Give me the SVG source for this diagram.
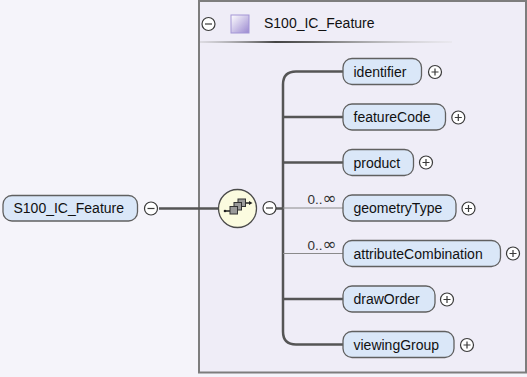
<svg xmlns="http://www.w3.org/2000/svg" width="527" height="377" viewBox="0 0 527 377">
<defs>
<style>
text{font-family:"Liberation Sans",Arial,sans-serif;fill:#111}
.el{fill:#dae7f8;stroke:#606060;stroke-width:1.3}
.lbl{font-size:14px}
.card{font-size:13.5px;fill:#333}
.inf{font-family:"DejaVu Sans",sans-serif;font-size:17px}
.btn{fill:#fff;stroke:#3a3a3a;stroke-width:1.2}
.sign{stroke:#3a3a3a;stroke-width:1.2;fill:none}
.req{stroke:#555;stroke-width:2.5;fill:none}
.opt{stroke:#8a8a8a;stroke-width:1;fill:none}
</style>
<linearGradient id="sq" x1="0" y1="0" x2="1" y2="1">
<stop offset="0" stop-color="#ffffff"/>
<stop offset="1" stop-color="#9a88d0"/>
</linearGradient>
<linearGradient id="sep" x1="0" y1="0" x2="1" y2="0">
<stop offset="0" stop-color="#b0b0b0" stop-opacity="0.3"/>
<stop offset="0.3" stop-color="#444"/>
<stop offset="0.45" stop-color="#666"/>
<stop offset="1" stop-color="#ddd" stop-opacity="0.3"/>
</linearGradient>
<g id="plus"><circle r="6.5" class="btn"/><path d="M-3.5,0H3.5M0,-3.5V3.5" class="sign"/></g>
<g id="minus"><circle r="6.5" class="btn"/><path d="M-3.5,0H3.5" class="sign"/></g>
</defs>
<rect width="527" height="377" fill="#f5f4fa"/>
<g id="container">
<rect x="199" y="1" width="327" height="371.5" fill="#efedf7" stroke="#7d7d7d" stroke-width="2"/>
<use href="#minus" x="208.5" y="24"/>
<rect x="231" y="15" width="18" height="18" fill="url(#sq)" stroke="#a396d6" stroke-width="1"/>
<text x="264" y="28" class="lbl">S100_IC_Feature</text>
<rect x="200" y="41" width="252" height="2" fill="url(#sep)"/>
</g>
<g id="connectors">
<path d="M159,208.5H218" class="req"/>
<path d="M276,208.5H283" class="req"/>
<path d="M343,71.5H296Q283,71.5 283,84.5V331.5Q283,344.5 296,344.5H343" class="req"/>
<path d="M283,117H343M283,162.5H343M283,299H343" class="req"/>
<path d="M283,208H343M283,253.5H343" class="opt"/>
<text x="307.5" y="203.5" class="card">0..<tspan class="inf">∞</tspan></text>
<text x="307.5" y="249.5" class="card">0..<tspan class="inf">∞</tspan></text>
</g>
<g id="root">
<rect x="3" y="195.5" width="134.5" height="25.5" rx="9" class="el"/>
<text x="13.5" y="213" class="lbl">S100_IC_Feature</text>
<use href="#minus" x="151" y="208.5"/>
</g>
<g id="sequence">
<circle cx="237.5" cy="208.5" r="19" fill="#fbfbdf" stroke="#4a4a4a" stroke-width="1.3"/>
<path d="M224.5,211H231M245,203H251" stroke="#222" stroke-width="1.3"/>
<circle cx="225" cy="211" r="1.3" fill="#222"/>
<path d="M249,201L252.5,203L249,205Z" fill="#222"/>
<rect x="238" y="199" width="7.5" height="7.5" fill="#9a9a9a" stroke="#333" stroke-width="1"/>
<rect x="234" y="202.5" width="7.5" height="7.5" fill="#9a9a9a" stroke="#333" stroke-width="1"/>
<rect x="230" y="206.5" width="7.5" height="7.5" fill="#9a9a9a" stroke="#333" stroke-width="1"/>
<use href="#minus" x="269.5" y="208"/>
</g>
<g id="identifier">
<rect x="343" y="58.5" width="78.5" height="26" rx="9" class="el"/>
<text x="353.5" y="76.5" class="lbl">identifier</text>
<use href="#plus" x="435" y="72"/>
</g>
<g id="featureCode">
<rect x="343" y="104" width="102.5" height="26" rx="9" class="el"/>
<text x="353.5" y="122" class="lbl">featureCode</text>
<use href="#plus" x="458.3" y="117.5"/>
</g>
<g id="product">
<rect x="343" y="149.5" width="70.5" height="26" rx="9" class="el"/>
<text x="353.5" y="167.5" class="lbl">product</text>
<use href="#plus" x="426" y="162.5"/>
</g>
<g id="geometryType">
<rect x="343" y="195" width="113" height="26" rx="9" class="el" stroke="#808080"/>
<text x="353.5" y="213" class="lbl">geometryType</text>
<use href="#plus" x="468.5" y="208.5"/>
</g>
<g id="attributeCombination">
<rect x="343" y="240.5" width="157.5" height="26" rx="9" class="el" stroke="#808080"/>
<text x="353.5" y="258.5" class="lbl">attributeCombination</text>
<use href="#plus" x="513" y="253.5"/>
</g>
<g id="drawOrder">
<rect x="343" y="286" width="92" height="26" rx="9" class="el"/>
<text x="353.5" y="304" class="lbl">drawOrder</text>
<use href="#plus" x="447" y="299.5"/>
</g>
<g id="viewingGroup">
<rect x="343" y="331.5" width="111" height="26" rx="9" class="el"/>
<text x="353.5" y="349.5" class="lbl">viewingGroup</text>
<use href="#plus" x="467" y="345"/>
</g>
</svg>
